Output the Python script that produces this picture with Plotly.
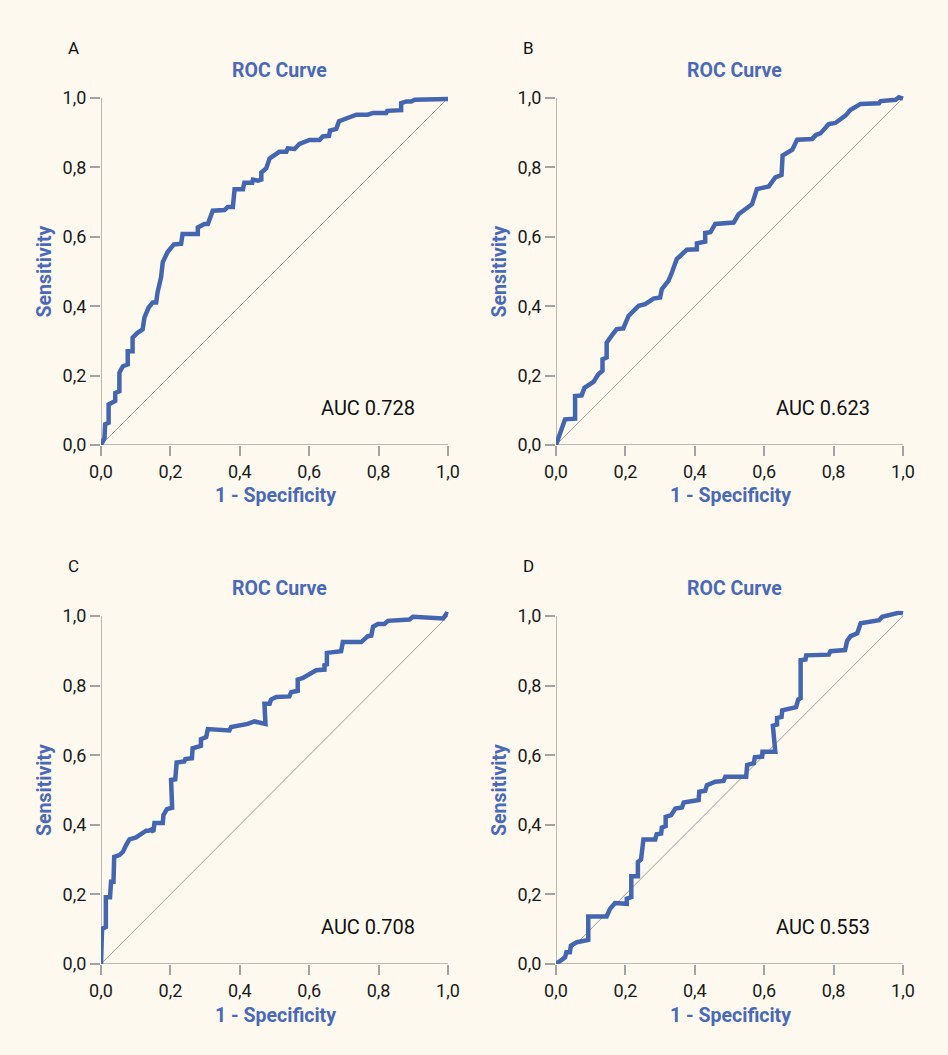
import plotly.graph_objects as go

# ---------------- data ----------------
panel_labels = ["A", "B", "C", "D"]
auc_texts = ["AUC 0.728", "AUC 0.623", "AUC 0.708", "AUC 0.553"]
tick_vals = [0.0, 0.2, 0.4, 0.6, 0.8, 1.0]
tick_text = ["0,0", "0,2", "0,4", "0,6", "0,8", "1,0"]
diag_x = [0.0, 1.0]
diag_y = [0.0, 1.0]

a_x = [0, 0.01, 0.012, 0.022, 0.022, 0.041, 0.041, 0.053, 0.053, 0.063, 0.077, 0.077, 0.091, 0.091,
       0.106, 0.12, 0.125, 0.137, 0.149, 0.159, 0.163, 0.173, 0.178, 0.192, 0.21, 0.231, 0.235, 0.279,
       0.279, 0.298, 0.308, 0.322, 0.356, 0.365, 0.38, 0.385, 0.409, 0.413, 0.436, 0.438, 0.452, 0.462,
       0.462, 0.476, 0.486, 0.514, 0.534, 0.538, 0.558, 0.572, 0.601, 0.63, 0.639, 0.657, 0.66, 0.678,
       0.686, 0.736, 0.769, 0.784, 0.822, 0.825, 0.865, 0.865, 0.88, 0.894, 0.904, 1.0]
a_y = [0, 0.02, 0.06, 0.064, 0.117, 0.127, 0.15, 0.155, 0.208, 0.227, 0.232, 0.27, 0.27, 0.309,
       0.324, 0.333, 0.367, 0.396, 0.411, 0.411, 0.44, 0.483, 0.527, 0.556, 0.578, 0.58, 0.608, 0.608,
       0.627, 0.637, 0.637, 0.675, 0.677, 0.686, 0.686, 0.737, 0.737, 0.756, 0.756, 0.765, 0.762, 0.765,
       0.785, 0.797, 0.826, 0.845, 0.845, 0.855, 0.853, 0.868, 0.879, 0.879, 0.889, 0.891, 0.906, 0.911,
       0.933, 0.952, 0.952, 0.957, 0.957, 0.963, 0.965, 0.985, 0.99, 0.99, 0.995, 0.997]

b_x = [0, 0.012, 0.021, 0.026, 0.055, 0.055, 0.074, 0.082, 0.108, 0.122, 0.134, 0.134, 0.146, 0.146,
       0.161, 0.175, 0.194, 0.209, 0.238, 0.257, 0.281, 0.3, 0.305, 0.324, 0.334, 0.348, 0.377, 0.406,
       0.406, 0.43, 0.43, 0.445, 0.459, 0.512, 0.526, 0.565, 0.579, 0.613, 0.632, 0.65, 0.653, 0.681,
       0.695, 0.738, 0.75, 0.762, 0.786, 0.805, 0.834, 0.849, 0.878, 0.931, 0.936, 0.979, 0.988, 1.0]
b_y = [0, 0.036, 0.055, 0.074, 0.076, 0.141, 0.143, 0.165, 0.182, 0.204, 0.214, 0.247, 0.252, 0.295,
       0.316, 0.334, 0.336, 0.372, 0.401, 0.406, 0.422, 0.425, 0.449, 0.473, 0.497, 0.536, 0.5625, 0.564,
       0.581, 0.586, 0.611, 0.613, 0.637, 0.641, 0.665, 0.694, 0.7375, 0.745, 0.771, 0.778, 0.834, 0.851,
       0.88, 0.882, 0.894, 0.898, 0.925, 0.928, 0.949, 0.966, 0.983, 0.985, 0.991, 0.995, 1.002, 0.998]

c_x = [0, 0.003, 0.014, 0.014, 0.026, 0.029, 0.036, 0.038, 0.053, 0.063, 0.072, 0.082, 0.101, 0.111,
       0.122, 0.13, 0.137, 0.144, 0.151, 0.154, 0.178, 0.18, 0.19, 0.205, 0.202, 0.214, 0.218, 0.24,
       0.243, 0.262, 0.264, 0.288, 0.288, 0.303, 0.308, 0.37, 0.375, 0.423, 0.442, 0.474, 0.471, 0.486,
       0.49, 0.505, 0.543, 0.548, 0.567, 0.567, 0.582, 0.62, 0.644, 0.644, 0.651, 0.651, 0.692, 0.697,
       0.75, 0.769, 0.779, 0.784, 0.798, 0.817, 0.827, 0.889, 0.899, 0.986, 0.995, 1.0]
c_y = [0, 0.101, 0.106, 0.192, 0.192, 0.236, 0.236, 0.308, 0.313, 0.322, 0.341, 0.358, 0.364, 0.37,
       0.375, 0.383, 0.383, 0.386, 0.38, 0.405, 0.405, 0.428, 0.445, 0.449, 0.529, 0.531, 0.579, 0.582,
       0.589, 0.591, 0.62, 0.627, 0.646, 0.652, 0.675, 0.671, 0.681, 0.69, 0.697, 0.69, 0.748, 0.748,
       0.76, 0.767, 0.769, 0.781, 0.785, 0.817, 0.822, 0.844, 0.846, 0.859, 0.861, 0.894, 0.899, 0.925,
       0.925, 0.942, 0.944, 0.969, 0.977, 0.977, 0.986, 0.99, 0.998, 0.993, 1.006, 1.004]

d_x = [0, 0.026, 0.03, 0.04, 0.043, 0.06, 0.093, 0.093, 0.146, 0.156, 0.17, 0.204, 0.204, 0.217,
       0.217, 0.236, 0.236, 0.245, 0.252, 0.286, 0.29, 0.303, 0.305, 0.316, 0.316, 0.332, 0.344, 0.363,
       0.368, 0.411, 0.413, 0.43, 0.435, 0.459, 0.483, 0.488, 0.548, 0.551, 0.57, 0.573, 0.594, 0.595,
       0.632, 0.625, 0.637, 0.637, 0.65, 0.652, 0.692, 0.698, 0.705, 0.705, 0.719, 0.721, 0.786, 0.791,
       0.833, 0.839, 0.849, 0.868, 0.878, 0.931, 0.94, 0.979, 0.99, 1.0]
d_y = [0, 0.019, 0.034, 0.034, 0.053, 0.0625, 0.069, 0.1365, 0.1365, 0.159, 0.175, 0.173, 0.188, 0.192,
       0.252, 0.252, 0.293, 0.3, 0.358, 0.358, 0.373, 0.375, 0.392, 0.396, 0.423, 0.428, 0.447, 0.45,
       0.464, 0.471, 0.495, 0.498, 0.514, 0.524, 0.526, 0.538, 0.538, 0.572, 0.577, 0.594, 0.596, 0.61,
       0.61, 0.685, 0.688, 0.707, 0.71, 0.729, 0.738, 0.76, 0.764, 0.873, 0.875, 0.887, 0.889, 0.899,
       0.902, 0.928, 0.942, 0.95, 0.979, 0.988, 0.998, 1.006, 1.01, 1.008]

curves_x = [a_x, b_x, c_x, d_x]
curves_y = [a_y, b_y, c_y, d_y]

# ---------------- layout ----------------
W, H = 948, 1055
BG = "#FDF9EE"
BLUE = "#4465B0"
TITLE_BLUE = "#4A69B6"
AXIS_GREY = "#A3A3A3"
FONT = "Roboto"
PAD = 1.015  # a little room so the thick curve is not clipped at the top/right

# pixel geometry of each panel: (x0, x1) for the 0..1 span, (ytop, ybottom) for 1..0
panels_px = [
    (101, 448, 98, 445),
    (556, 903, 98, 445),
    (101, 448, 616, 964),
    (556, 903, 616, 964),
]

fig = go.Figure()
annotations = []
shapes = []

for i, (px0, px1, pyt, pyb) in enumerate(panels_px):
    xa = "x" if i == 0 else f"x{i+1}"
    ya = "y" if i == 0 else f"y{i+1}"
    span_x = px1 - px0
    span_y = pyb - pyt
    dom_x = [px0 / W, (px0 + span_x * PAD) / W]
    dom_y = [1 - pyb / H, 1 - (pyb - span_y * PAD) / H]

    axis_common = dict(
        range=[0, PAD], tickvals=tick_vals, ticktext=tick_text,
        ticks="outside", ticklen=10, tickwidth=1.5, tickcolor=AXIS_GREY,
        showgrid=False, zeroline=False, showline=False, automargin=False,
        tickfont=dict(family=FONT, size=18, color="#1a1a1a"),
        fixedrange=True,
    )
    fig.update_layout(**{
        ("xaxis" if i == 0 else f"xaxis{i+1}"): dict(domain=dom_x, anchor=ya, **axis_common),
        ("yaxis" if i == 0 else f"yaxis{i+1}"): dict(domain=dom_y, anchor=xa, **axis_common),
    })

    # diagonal reference line
    fig.add_trace(go.Scatter(x=diag_x, y=diag_y, mode="lines", xaxis=xa, yaxis=ya,
                             line=dict(color="#9C9C9C", width=1), hoverinfo="skip", showlegend=False))
    # ROC curve
    fig.add_trace(go.Scatter(x=curves_x[i], y=curves_y[i], mode="lines", xaxis=xa, yaxis=ya,
                             line=dict(color=BLUE, width=4.5), showlegend=False))

    # axis lines 0..1
    shapes.append(dict(type="line", xref=xa, yref=ya, x0=0, x1=1, y0=0, y1=0,
                       line=dict(color=AXIS_GREY, width=1.5), layer="below"))
    shapes.append(dict(type="line", xref=xa, yref=ya, x0=0, x1=0, y0=0, y1=1,
                       line=dict(color=AXIS_GREY, width=1.5), layer="below"))

    cx = (px0 + px1) / 2
    # panel letter
    annotations.append(dict(text=panel_labels[i], xref="paper", yref="paper",
                            x=(px0 - 28) / W, y=1 - (pyt - 50) / H, showarrow=False,
                            xanchor="center", yanchor="middle",
                            font=dict(family=FONT, size=17, color="#111")))
    # title
    annotations.append(dict(text="<b>ROC Curve</b>", xref="paper", yref="paper",
                            x=(cx + 5) / W, y=1 - (pyt - 28) / H, showarrow=False,
                            xanchor="center", yanchor="middle",
                            font=dict(family=FONT, size=19.5, color=TITLE_BLUE)))
    # x title
    annotations.append(dict(text="<b>1 - Specificity</b>", xref="paper", yref="paper",
                            x=(cx + 1) / W, y=1 - (pyb + 51) / H, showarrow=False,
                            xanchor="center", yanchor="middle",
                            font=dict(family=FONT, size=19.5, color=TITLE_BLUE)))
    # y title
    annotations.append(dict(text="<b>Sensitivity</b>", xref="paper", yref="paper",
                            x=(px0 - 57) / W, y=1 - ((pyt + pyb) / 2) / H, showarrow=False,
                            xanchor="center", yanchor="middle", textangle=-90,
                            font=dict(family=FONT, size=19.5, color=TITLE_BLUE)))
    # AUC
    annotations.append(dict(text=auc_texts[i], xref="paper", yref="paper",
                            x=(px0 + 267) / W, y=1 - (pyb - 37) / H, showarrow=False,
                            xanchor="center", yanchor="middle",
                            font=dict(family=FONT, size=20, color="#111")))

fig.update_layout(
    width=W, height=H,
    margin=dict(l=0, r=0, t=0, b=0, pad=0, autoexpand=False),
    paper_bgcolor=BG, plot_bgcolor=BG,
    annotations=annotations, shapes=shapes,
    showlegend=False,
)

fig.write_html(
    "out.html",
    config={"displayModeBar": False},
    post_script="document.body.style.margin='0';document.body.style.padding='0';"
                "document.body.style.background='" + BG + "';",
)
